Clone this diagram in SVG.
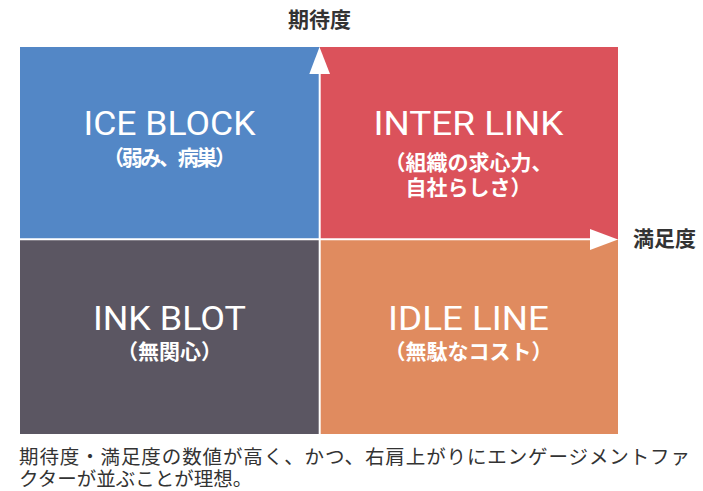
<svg xmlns="http://www.w3.org/2000/svg" width="703" height="491" viewBox="0 0 703 491">
<style>
.big{font-family:Roboto,"Noto Sans",sans-serif;font-size:34px;fill:#fff;text-anchor:middle}
.jp{font-family:"Noto Sans CJK JP",sans-serif;font-weight:bold;font-size:21px;fill:#fff;text-anchor:middle}
.ax{font-family:"Noto Sans CJK JP",sans-serif;font-weight:bold;font-size:21px;fill:#333}
.cap{font-family:"Noto Sans CJK JP",sans-serif;font-size:19.5px;fill:#333}
.axis{stroke:#fff;stroke-width:2;fill:none}
</style>
<rect width="703" height="491" fill="#fff"/>
<g id="ice-block">
<rect x="20" y="47" width="299.7" height="192.3" fill="#5387c6"/>
<text class="big" x="169.5" y="134.5" textLength="172" lengthAdjust="spacingAndGlyphs">ICE BLOCK</text>
<text class="jp" x="169.5" y="165" textLength="133" lengthAdjust="spacing">（弱み、病巣）</text>
</g>
<g id="inter-link">
<rect x="319.7" y="47" width="298.3" height="192.3" fill="#db525b"/>
<text class="big" x="468.5" y="134.5" textLength="190" lengthAdjust="spacingAndGlyphs">INTER LINK</text>
<text class="jp" x="468.5" y="170">（組織の求心力、</text>
<text class="jp" x="468.5" y="195">自社らしさ）</text>
</g>
<g id="ink-blot">
<rect x="20" y="239.3" width="299.7" height="194.7" fill="#5b5662"/>
<text class="big" x="169.5" y="330" textLength="153" lengthAdjust="spacingAndGlyphs">INK BLOT</text>
<text class="jp" x="169.5" y="359">（無関心）</text>
</g>
<g id="idle-line">
<rect x="319.7" y="239.3" width="298.3" height="194.7" fill="#e08b5f"/>
<text class="big" x="468.5" y="330" textLength="161" lengthAdjust="spacingAndGlyphs">IDLE LINE</text>
<text class="jp" x="468.5" y="359">（無駄なコスト）</text>
</g>
<g id="connectors">
<line class="axis" x1="319.7" y1="434" x2="319.7" y2="70"/>
<polygon points="319.5,47 309.3,74 330,74" fill="#fff"/>
<line class="axis" x1="20" y1="239.3" x2="595" y2="239.3"/>
<polygon points="618,239.5 590,229 590,250" fill="#fff"/>
</g>
<g id="axis-labels">
<text class="ax" x="319.5" y="27" text-anchor="middle">期待度</text>
<text class="ax" x="633" y="246">満足度</text>
</g>
<g id="caption">
<text class="cap" x="19" y="464" textLength="671" lengthAdjust="spacing">期待度・満足度の数値が高く、かつ、右肩上がりにエンゲージメントファ</text>
<text class="cap" x="19" y="486">クターが並ぶことが理想。</text>
</g>
</svg>
